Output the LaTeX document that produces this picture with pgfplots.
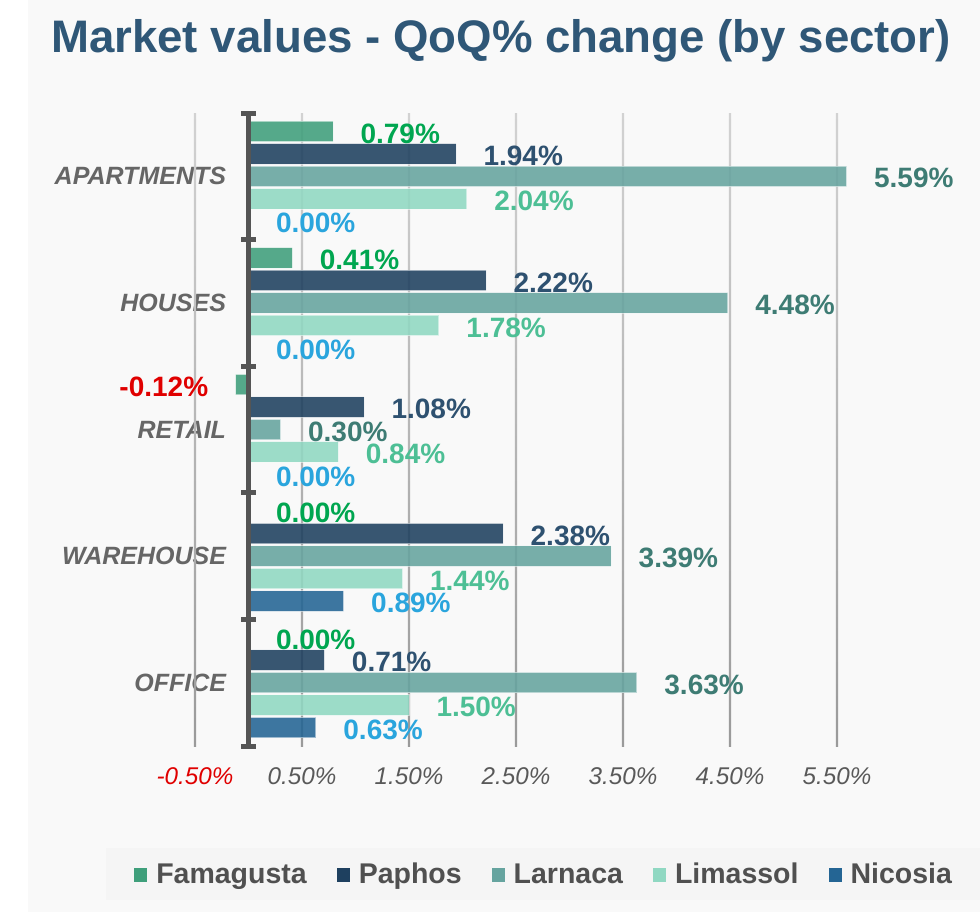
\documentclass[border=0pt]{standalone}
\usepackage{pgfplots}
\pgfplotsset{compat=1.18}
\usepackage{fontspec}
\setmainfont{Liberation Sans}
\definecolor{panelbg}{HTML}{F9F9F9}
\definecolor{legbg}{HTML}{F5F5F5}
\definecolor{titlecol}{HTML}{2F5777}
\definecolor{tickgray}{HTML}{595959}
\definecolor{catgray}{HTML}{666666}
\definecolor{legtext}{HTML}{505050}
\definecolor{axiscol}{HTML}{555555}
\definecolor{negred}{HTML}{E00000}
\definecolor{gridtop}{HTML}{D2D2D2}
\definecolor{gridbot}{HTML}{9A9A9A}
\definecolor{famfill}{HTML}{3F9F7B}
\definecolor{papfill}{HTML}{1E405F}
\definecolor{larfill}{HTML}{66A49F}
\definecolor{limfill}{HTML}{90D8C2}
\definecolor{nicfill}{HTML}{246594}
\definecolor{famlab}{HTML}{00A650}
\definecolor{paplab}{HTML}{2E5170}
\definecolor{larlab}{HTML}{3E7C74}
\definecolor{limlab}{HTML}{4DBF95}
\definecolor{niclab}{HTML}{2AA5DD}
\begin{document}
\begin{tikzpicture}
\path[use as bounding box] (0,0) rectangle (490pt,456pt);
\fill[white] (0,0) rectangle (490pt,456pt);
\fill[panelbg] (14pt,0) rectangle (490pt,456pt);
\fill[legbg] (53pt,6pt) rectangle (490pt,32pt);
\node[anchor=base, text=titlecol, font=\bfseries\fontsize{22.8}{24}\selectfont, inner sep=0pt] at (250.5pt,429.5pt) {Market values - QoQ\% change (by sector)};
\begin{axis}[
  at={(97.5pt,83pt)}, anchor=south west,
  scale only axis, width=347.75pt, height=316.5pt,
  xmin=-0.5, xmax=6, ymin=-0.5, ymax=4.5,
  clip=false,
  xbar, bar width=0.162,
  axis line style={draw=none},
  tick style={draw=none},
  major tick length=0pt,
  xtick={-0.5,0.5,1.5,2.5,3.5,4.5,5.5},
  xticklabels={\textcolor{negred}{-0.50\%},0.50\%,1.50\%,2.50\%,3.50\%,4.50\%,5.50\%},
  xticklabel style={anchor=base, yshift=-19pt, inner sep=0pt, font=\itshape\fontsize{12.1}{12}\selectfont, text=tickgray},
  ytick={0,1,2,3,4},
  yticklabels={OFFICE,WAREHOUSE,RETAIL,HOUSES,APARTMENTS},
  yticklabel style={anchor=east, inner sep=0pt, xshift=15.7pt, font=\bfseries\itshape\fontsize{12.5}{13}\selectfont, text=catgray},
  point meta=x,
  visualization depends on={value \thisrow{v}\as\rawv},
  nodes near coords={\ifdim\rawv pt<0pt\color{negred}\fi\pgfmathprintnumber[fixed,fixed zerofill,precision=2,assume math mode=true]{\pgfplotspointmeta}\%},
  every node near coord/.append style={font=\bfseries\fontsize{14}{14}\selectfont, inner xsep=13.5pt, inner ysep=0pt, yshift=-1pt, text opacity=1},
  legend columns=5,
  legend image code/.code={\fill[#1,draw=none,fill opacity=1] (0pt,-3.3pt) rectangle (6.5pt,3.3pt);},
  legend style={at={(0.507,-0.2038)}, anchor=center, draw=none, fill=none, inner sep=0pt, column sep=0pt,
    font=\bfseries\fontsize{14.25}{15}\selectfont, nodes={text=legtext, inner xsep=4.5pt, inner ysep=2pt},
    /tikz/every even column/.append style={column sep=10.5pt}},
]
\pgfplotsinvokeforeach{-0.5,0.5,1.5,2.5,3.5,4.5,5.5}{
  \shade[top color=gridtop, bottom color=gridbot] ([xshift=-0.55pt]axis cs:#1,4.5) rectangle ([xshift=0.55pt]axis cs:#1,-0.5);
}
\addplot[fill=famfill, fill opacity=0.88, draw=white, draw opacity=0.5, line width=0.5pt, bar shift=0.355,
  every node near coord/.append style={text=famlab}]
  table[x=v, y=c] {
v c
0.79 4
0.41 3
-0.12 2
0.00 1
0.00 0
};
\addlegendentry{Famagusta}
\addplot[fill=papfill, fill opacity=0.88, draw=white, draw opacity=0.5, line width=0.5pt, bar shift=0.1775,
  every node near coord/.append style={text=paplab}]
  table[x=v, y=c] {
v c
1.94 4
2.22 3
1.08 2
2.38 1
0.71 0
};
\addlegendentry{Paphos}
\addplot[fill=larfill, fill opacity=0.88, draw=white, draw opacity=0.5, line width=0.5pt, bar shift=0,
  every node near coord/.append style={text=larlab}]
  table[x=v, y=c] {
v c
5.59 4
4.48 3
0.30 2
3.39 1
3.63 0
};
\addlegendentry{Larnaca}
\addplot[fill=limfill, fill opacity=0.88, draw=white, draw opacity=0.5, line width=0.5pt, bar shift=-0.1775,
  every node near coord/.append style={text=limlab}]
  table[x=v, y=c] {
v c
2.04 4
1.78 3
0.84 2
1.44 1
1.50 0
};
\addlegendentry{Limassol}
\addplot[fill=nicfill, fill opacity=0.88, draw=white, draw opacity=0.5, line width=0.5pt, bar shift=-0.355,
  every node near coord/.append style={text=niclab}]
  table[x=v, y=c] {
v c
0.00 4
0.00 3
0.00 2
0.89 1
0.63 0
};
\addlegendentry{Nicosia}
\draw[line width=2.35pt, axiscol] (axis cs:0,-0.5) -- (axis cs:0,4.5);
\pgfplotsinvokeforeach{-0.5,0.5,1.5,2.5,3.5,4.5}{
  \draw[line width=2.5pt, axiscol] ([xshift=-3.75pt]axis cs:0,#1) -- ([xshift=3.75pt]axis cs:0,#1);
}
\end{axis}
\end{tikzpicture}
\end{document}
